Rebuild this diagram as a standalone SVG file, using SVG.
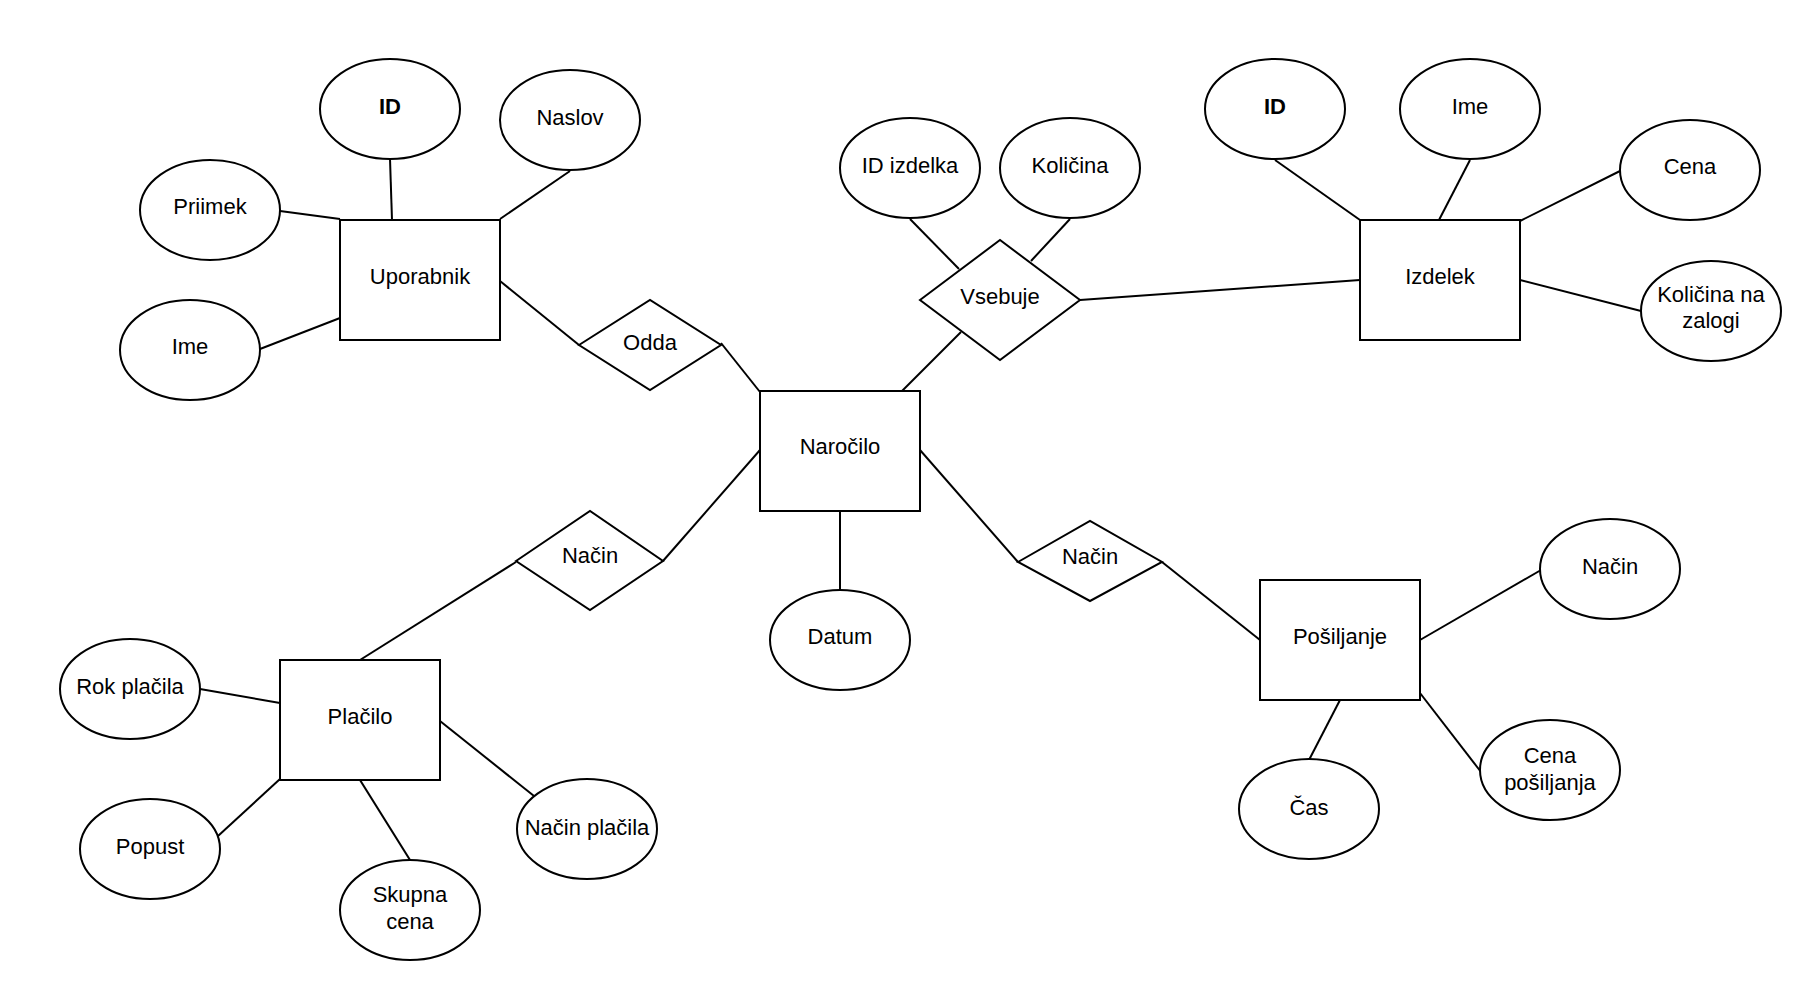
<svg xmlns="http://www.w3.org/2000/svg" width="1820" height="1000" viewBox="0 0 1820 1000">
<style>
.s{fill:#fff;stroke:#000;stroke-width:2}
.t{font-family:"Liberation Sans",Arial,sans-serif;font-size:22px;text-anchor:middle;fill:#000}
.b{font-weight:bold}
#connectors line{stroke:#000;stroke-width:2}
</style>
<rect width="1820" height="1000" fill="#fff"/>
<g id="connectors">
<line x1="390" y1="159" x2="392" y2="220"/>
<line x1="570" y1="171" x2="500" y2="219"/>
<line x1="280" y1="211" x2="340" y2="219"/>
<line x1="260" y1="349" x2="340" y2="318"/>
<line x1="500" y1="281" x2="579" y2="345"/>
<line x1="721" y1="343" x2="760" y2="392"/>
<line x1="910" y1="219" x2="959" y2="269"/>
<line x1="1070" y1="219" x2="1031" y2="261"/>
<line x1="961" y1="332" x2="902" y2="391"/>
<line x1="1080" y1="300" x2="1360" y2="280"/>
<line x1="1275" y1="160" x2="1360" y2="220"/>
<line x1="1470" y1="160" x2="1439" y2="220"/>
<line x1="1620" y1="171" x2="1520" y2="221"/>
<line x1="1641" y1="311" x2="1520" y2="280"/>
<line x1="840" y1="511" x2="840" y2="590"/>
<line x1="760" y1="450" x2="663" y2="561"/>
<line x1="920" y1="450" x2="1018" y2="562"/>
<line x1="516" y1="562" x2="360" y2="660"/>
<line x1="1162" y1="562" x2="1260" y2="640"/>
<line x1="200" y1="689" x2="280" y2="703"/>
<line x1="218" y1="836" x2="280" y2="779"/>
<line x1="410" y1="860" x2="360" y2="780"/>
<line x1="534" y1="796" x2="440" y2="721"/>
<line x1="1420" y1="640" x2="1541" y2="570"/>
<line x1="1340" y1="700" x2="1309" y2="760"/>
<line x1="1420" y1="693" x2="1481" y2="772"/>
</g>
<g id="uporabnik"><rect class="s" x="340" y="220" width="160" height="120"/><text class="t" x="420" y="284">Uporabnik</text></g>
<g id="uporabnik-id"><ellipse class="s" cx="390" cy="109" rx="70" ry="50"/><text class="t b" x="390" y="114">ID</text></g>
<g id="uporabnik-naslov"><ellipse class="s" cx="570" cy="120" rx="70" ry="50"/><text class="t" x="570" y="125">Naslov</text></g>
<g id="uporabnik-priimek"><ellipse class="s" cx="210" cy="210" rx="70" ry="50"/><text class="t" x="210" y="214">Priimek</text></g>
<g id="uporabnik-ime"><ellipse class="s" cx="190" cy="350" rx="70" ry="50"/><text class="t" x="190" y="354">Ime</text></g>
<g id="odda"><polygon class="s" points="579,345 650,300 721,345 650,390"/><text class="t" x="650" y="350">Odda</text></g>
<g id="narocilo"><rect class="s" x="760" y="391" width="160" height="120"/><text class="t" x="840" y="454">Naročilo</text></g>
<g id="vsebuje"><polygon class="s" points="920,300 1000,240 1080,300 1000,360"/><text class="t" x="1000" y="304">Vsebuje</text></g>
<g id="id-izdelka"><ellipse class="s" cx="910" cy="168" rx="70" ry="50"/><text class="t" x="910" y="173">ID izdelka</text></g>
<g id="kolicina"><ellipse class="s" cx="1070" cy="168" rx="70" ry="50"/><text class="t" x="1070" y="173">Količina</text></g>
<g id="izdelek"><rect class="s" x="1360" y="220" width="160" height="120"/><text class="t" x="1440" y="284">Izdelek</text></g>
<g id="izdelek-id"><ellipse class="s" cx="1275" cy="109" rx="70" ry="50"/><text class="t b" x="1275" y="114">ID</text></g>
<g id="izdelek-ime"><ellipse class="s" cx="1470" cy="109" rx="70" ry="50"/><text class="t" x="1470" y="114">Ime</text></g>
<g id="izdelek-cena"><ellipse class="s" cx="1690" cy="170" rx="70" ry="50"/><text class="t" x="1690" y="174">Cena</text></g>
<g id="izdelek-zaloga"><ellipse class="s" cx="1711" cy="311" rx="70" ry="50"/><text class="t" x="1711" y="302">Količina na</text><text class="t" x="1711" y="328">zalogi</text></g>
<g id="datum"><ellipse class="s" cx="840" cy="640" rx="70" ry="50"/><text class="t" x="840" y="644">Datum</text></g>
<g id="nacin-placilo"><polygon class="s" points="516,561 590,511 663,561 590,610"/><text class="t" x="590" y="563">Način</text></g>
<g id="nacin-posiljanje"><polygon class="s" points="1018,562 1090,521 1162,562 1090,601"/><text class="t" x="1090" y="564">Način</text></g>
<g id="placilo"><rect class="s" x="280" y="660" width="160" height="120"/><text class="t" x="360" y="724">Plačilo</text></g>
<g id="rok-placila"><ellipse class="s" cx="130" cy="689" rx="70" ry="50"/><text class="t" x="130" y="694">Rok plačila</text></g>
<g id="popust"><ellipse class="s" cx="150" cy="849" rx="70" ry="50"/><text class="t" x="150" y="854">Popust</text></g>
<g id="skupna-cena"><ellipse class="s" cx="410" cy="910" rx="70" ry="50"/><text class="t" x="410" y="902">Skupna</text><text class="t" x="410" y="929">cena</text></g>
<g id="nacin-placila"><ellipse class="s" cx="587" cy="829" rx="70" ry="50"/><text class="t" x="587" y="835">Način plačila</text></g>
<g id="posiljanje"><rect class="s" x="1260" y="580" width="160" height="120"/><text class="t" x="1340" y="644">Pošiljanje</text></g>
<g id="posiljanje-nacin"><ellipse class="s" cx="1610" cy="569" rx="70" ry="50"/><text class="t" x="1610" y="574">Način</text></g>
<g id="cas"><ellipse class="s" cx="1309" cy="809" rx="70" ry="50"/><text class="t" x="1309" y="815">Čas</text></g>
<g id="cena-posiljanja"><ellipse class="s" cx="1550" cy="770" rx="70" ry="50"/><text class="t" x="1550" y="763">Cena</text><text class="t" x="1550" y="790">pošiljanja</text></g>
</svg>
